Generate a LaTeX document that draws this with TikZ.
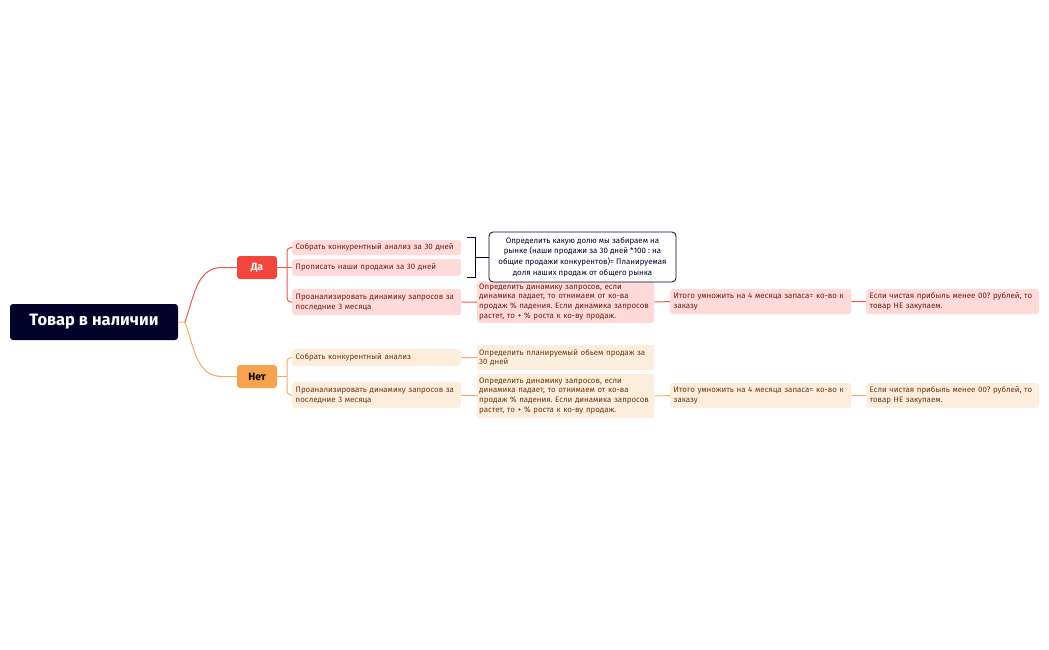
\documentclass[tikz,border=0pt]{standalone}
\usepackage{fontspec}
\setmainfont{Fira Sans}
\usepackage{xcolor}
\definecolor{navy}{HTML}{03032A}
\definecolor{yesred}{HTML}{F2463D}
\definecolor{yesline}{HTML}{F0564D}
\definecolor{yesfill}{HTML}{FFDAD8}
\definecolor{yestext}{HTML}{6E211C}
\definecolor{nooran}{HTML}{F7A24D}
\definecolor{noline}{HTML}{F8AC5E}
\definecolor{nofill}{HTML}{FDEDDC}
\definecolor{notext}{HTML}{6A3A14}
\frenchspacing
\tikzset{
  rootbox/.style = {fill=navy,text=white,rounded corners=3pt,minimum width=168pt,
                    minimum height=36pt,font=\fontsize{16.5}{18}\selectfont\bfseries},
  tagbox/.style  = {rounded corners=3pt,minimum width=40pt,minimum height=23pt,
                    font=\fontsize{10.5}{12}\selectfont\bfseries},
  leaf/.style    = {anchor=west,rounded corners=3pt,align=left,inner xsep=3.5pt,inner ysep=1pt,
                    font=\fontsize{7.9}{9.9}\selectfont},
  wideleaf/.style = {text width=173pt,inner xsep=2pt},
  yesleaf/.style = {leaf,fill=yesfill,text=yestext},
  noleaf/.style  = {leaf,fill=nofill,text=notext},
  yeslink/.style = {yesline,line width=1pt},
  nolink/.style  = {noline,line width=1pt}
}

\begin{document}
\begin{tikzpicture}[x=1pt,y=-1pt]
  \useasboundingbox (0,0) rectangle (1049,650);
  \node[rootbox] (root) at (94,322) {Товар в наличии};
  \node[tagbox,fill=yesred,text=white] (yes) at (257,267.5) {Да};
  \node[tagbox,fill=nooran,text=black] (no)  at (257,376.5) {Нет};

  % "Да" branch
  \node[yesleaf,text width=162pt,minimum height=15pt] (y1) at (292,247.5)
    {Собрать конкурентный анализ за 30 дней};
  \node[yesleaf,text width=162pt,minimum height=17pt] (y2) at (292,267.5)
    {Прописать наши продажи за 30 дней};
  \node[yesleaf,text width=162pt,minimum height=26pt] (y3) at (292,302)
    {Проанализировать динамику запросов за\\последние 3 месяца};
  \node[yesleaf,wideleaf,minimum height=42pt] (y3a) at (477,302)
    {Определить динамику запросов, если\\динамика падает, то отнимаем от ко-ва\\продаж \% падения. Если динамика запросов\\растет, то + \% роста к ко-ву продаж.};
  \node[yesleaf,text width=174pt,minimum height=25pt] (y3b) at (670,301.5)
    {Итого умножить на 4 месяца запаса= ко-во к\\заказу};
  \node[yesleaf,text width=166pt,minimum height=25pt] (y3c) at (866,301.5)
    {Если чистая прибыль менее 00? рублей, то\\товар НЕ закупаем.};
  \node[draw=navy,thick,fill=white,text=navy,rounded corners=4pt,align=center,
        minimum width=187pt,minimum height=50pt,inner sep=2pt,
        font=\fontsize{7.9}{10.6}\selectfont] (share) at (582.5,257)
    {Определить какую долю мы забираем на\\рынке (наши продажи за 30 дней *100 : на\\общие продажи конкурентов)= Планируемая\\доля наших продаж от общего рынка};

  % "Нет" branch
  \node[noleaf,text width=162pt,minimum height=17pt] (n1) at (292,357.5)
    {Собрать конкурентный анализ};
  \node[noleaf,wideleaf,minimum height=25pt] (n1a) at (477,357.5)
    {Определить планируемый обьем продаж за\\30 дней};
  \node[noleaf,text width=162pt,minimum height=26pt] (n2) at (292,395)
    {Проанализировать динамику запросов за\\последние 3 месяца};
  \node[noleaf,wideleaf,minimum height=44pt] (n2a) at (477,396)
    {Определить динамику запросов, если\\динамика падает, то отнимаем от ко-ва\\продаж \% падения. Если динамика запросов\\растет, то + \% роста к ко-ву продаж.};
  \node[noleaf,text width=174pt,minimum height=25pt] (n2b) at (670,395.5)
    {Итого умножить на 4 месяца запаса= ко-во к\\заказу};
  \node[noleaf,text width=166pt,minimum height=25pt] (n2c) at (866,395.5)
    {Если чистая прибыль менее 00? рублей, то\\товар НЕ закупаем.};

  % connectors
  \coordinate (jr) at (185,322);
  \coordinate (jy) at (287,267.5);
  \coordinate (jn) at (287,376.5);
  \draw[nolink] (root.east) -- (jr) to[out=-70,in=180] (222,376.5) -- (no.west);
  \draw[yeslink] (jr) to[out=70,in=180] (222,267.5) -- (yes.west);
  \draw[yeslink] (yes.east) -- (jy) -- (y2.west);
  \draw[yeslink,rounded corners=4pt] (y1.west) -| (jy) |- (y3.west);
  \draw[yeslink] (y3) -- (y3a) (y3a) -- (y3b) (y3b) -- (y3c);
  \draw[nolink] (no.east) -- (jn);
  \draw[nolink,rounded corners=4pt] (n1.west) -| (jn) |- (n2.west);
  \draw[nolink] (n1) -- (n1a) (n2) -- (n2a) (n2a) -- (n2b) (n2b) -- (n2c);

  % bracket round the first two items
  \coordinate (bt) at (467,237);
  \coordinate (bb) at (467,277);
  \draw[navy,thick] (bt) -- ++(8,0) |- (bb) (475,257) -- (share.west);
\end{tikzpicture}
\end{document}
